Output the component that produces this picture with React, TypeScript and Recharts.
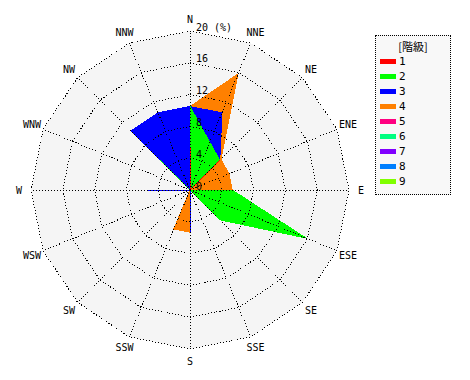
import React from "react";
import { RadarChart, Radar, PolarGrid, PolarAngleAxis, PolarRadiusAxis, Legend } from "recharts";

const directions = ["N", "NNE", "NE", "ENE", "E", "ESE", "SE", "SSE", "S", "SSW", "SW", "WSW", "W", "WNW", "NW", "NNW"];

// share (%) of each class per direction
const class1 = [5.3, 0, 5.3, 0, 0, 0, 0, 0, 0, 0, 0, 0, 0, 0, 0, 0];
const class2 = [5.2, 6.5, 0, 0, 5.3, 15.8, 5.3, 0, 0, 0, 0, 0, 0, 0, 5.3, 0];
const class3 = [0, 4.0, 0, 0, 0, 0, 0, 0, 5.3, 0, 0, 0, 5.3, 0, 5.2, 10.5];
const class4 = [0, 5.3, 0.2, 5.3, 0, 0, 0, 0, 0, 5.3, 0, 0, 0, 0, 0, 0];
const class5 = [0, 0, 0, 0, 0, 0, 0, 0, 0, 0, 0, 0, 0, 0, 0, 0];
const class6 = [0, 0, 0, 0, 0, 0, 0, 0, 0, 0, 0, 0, 0, 0, 0, 0];
const class7 = [0, 0, 0, 0, 0, 0, 0, 0, 0, 0, 0, 0, 0, 0, 0, 0];
const class8 = [0, 0, 0, 0, 0, 0, 0, 0, 0, 0, 0, 0, 0, 0, 0, 0];
const class9 = [0, 0, 0, 0, 0, 0, 0, 0, 0, 0, 0, 0, 0, 0, 0, 0];

const classNames = ["1", "2", "3", "4", "5", "6", "7", "8", "9"];
const classColors = ["#ff0000", "#00ff00", "#0000ff", "#ff8000", "#ff0080", "#00ff80", "#8000ff", "#0080ff", "#80ff00"];
const radiusTicks = [0, 4, 8, 12, 16, 20];
const radiusMax = 20;

const classes = [class1, class2, class3, class4, class5, class6, class7, class8, class9];

// stacked: each polygon is the running total up to its class
const data = directions.map((dir, i) => {
  const row: Record<string, number | string> = { dir, frame: radiusMax };
  let sum = 0;
  classes.forEach((c, k) => {
    sum += c[i];
    row[`c${k + 1}`] = sum;
  });
  return row;
});

const CX = 190;
const CY = 190;
const R = 159;
const FONT = "'DejaVu Sans Mono', monospace";

function AngleTick(props: any) {
  const i = directions.indexOf(props.payload.value);
  const a = (i * 22.5 * Math.PI) / 180;
  const r = R + 12;
  return (
    <text
      x={CX + r * Math.sin(a)}
      y={CY - r * Math.cos(a)}
      textAnchor="middle"
      dominantBaseline="central"
      fontSize={10}
      fontFamily={FONT}
      fill="#000"
    >
      {props.payload.value}
    </text>
  );
}

function RadiusTick(props: any) {
  const v = props.payload.value;
  return (
    <text x={props.x + 6} y={props.y - 4} textAnchor="start" dominantBaseline="central" fontSize={10} fontFamily={FONT} fill="#000">
      {v === radiusMax ? "20 (%)" : v}
    </text>
  );
}

function LegendBox() {
  return (
    <div
      style={{
        width: 74,
        height: 158,
        border: "1px dotted #000",
        background: "#f8f8f8",
        fontFamily: FONT,
        fontSize: 11,
        color: "#000",
        position: "relative",
      }}
    >
      <div style={{ position: "absolute", top: 2, width: "100%", textAlign: "center", fontFamily: "'Noto Sans CJK JP', sans-serif", fontSize: 11 }}>
        [階級]
      </div>
      {classNames.map((n, k) => (
        <div key={n} style={{ position: "absolute", left: 4, top: 18 + k * 15, height: 14, display: "flex", alignItems: "center" }}>
          <span style={{ display: "inline-block", width: 16, height: 5, background: classColors[k], marginRight: 3 }} />
          <span>{n}</span>
        </div>
      ))}
    </div>
  );
}

export default function App() {
  const order = [8, 7, 6, 5, 4, 3, 2, 1, 0];
  const layer: React.CSSProperties = { position: "absolute", left: 0, top: 0 };
  return (
    <div style={{ position: "absolute", left: 0, top: 0, width: 470, height: 380, background: "#fff" }}>
      <style>{`.recharts-radar-polygon path{shape-rendering:crispEdges} .recharts-polar-grid line, .recharts-polar-grid path{shape-rendering:crispEdges}`}</style>
      {/* fills */}
      <div style={layer}>
        <RadarChart width={470} height={380} data={data} cx={CX} cy={CY} outerRadius={R} margin={{ top: 0, right: 0, bottom: 0, left: 0 }}>
          <PolarAngleAxis dataKey="dir" tick={false} tickLine={false} axisLine={false} />
          <PolarRadiusAxis angle={90} domain={[0, radiusMax]} ticks={radiusTicks} tick={false} axisLine={false} tickLine={false} />
          <Radar dataKey="frame" stroke="none" fill="#f5f5f5" fillOpacity={1} isAnimationActive={false} legendType="none" />
          {order.map((k) => (
            <Radar
              key={k}
              name={classNames[k]}
              dataKey={`c${k + 1}`}
              stroke={classColors[k]}
              strokeWidth={1}
              fill={classColors[k]}
              fillOpacity={1}
              isAnimationActive={false}
            />
          ))}
        </RadarChart>
      </div>
      {/* grid, axes and legend on top */}
      <div style={layer}>
        <RadarChart width={470} height={380} data={data} cx={CX} cy={CY} outerRadius={R} margin={{ top: 0, right: 0, bottom: 0, left: 0 }}>
          <PolarGrid gridType="polygon" stroke="#000" strokeDasharray="1 2" radialLines />
          <PolarAngleAxis dataKey="dir" tick={<AngleTick />} tickLine={false} axisLine={false} />
          <PolarRadiusAxis
            angle={90}
            domain={[0, radiusMax]}
            ticks={radiusTicks}
            tick={<RadiusTick />}
            axisLine={false}
            tickLine={false}
          />
          <Radar dataKey="frame" stroke="none" fill="none" isAnimationActive={false} legendType="none" />
          <Legend content={() => <LegendBox />} wrapperStyle={{ position: "absolute", left: 375, top: 35, width: "auto" }} />
        </RadarChart>
      </div>
    </div>
  );
}
